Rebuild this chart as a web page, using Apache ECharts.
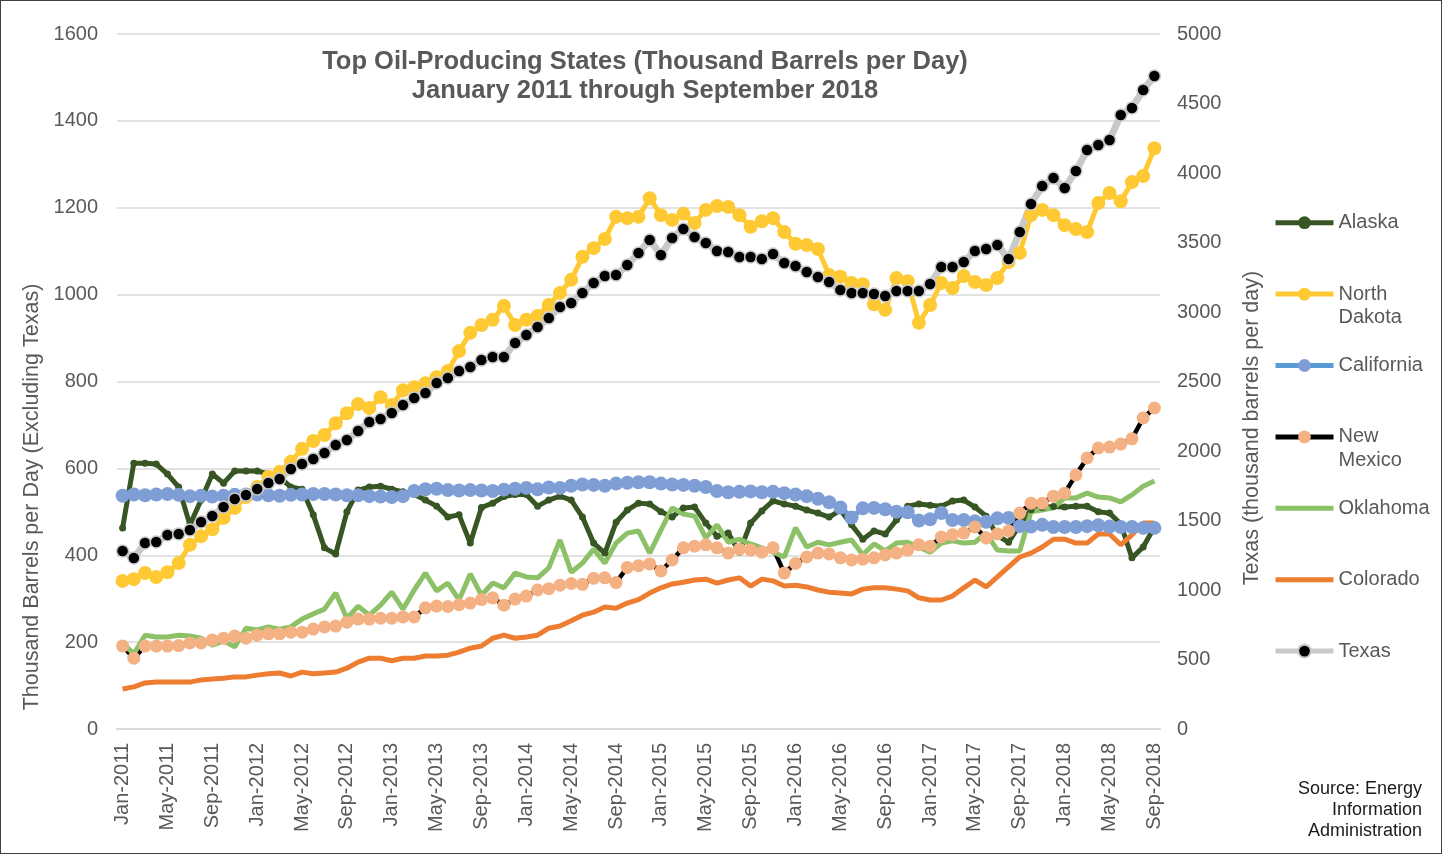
<!DOCTYPE html>
<html>
<head>
<meta charset="utf-8">
<title>Top Oil-Producing States</title>
<script src="https://cdn.jsdelivr.net/npm/echarts@6/dist/echarts.min.js"></script>
<style>
  html, body { margin: 0; padding: 0; background: #fff; }
  #chart { width: 1440px; height: 852px; border: 1px solid #404040; }
</style>
</head>
<body>
<div id="chart"></div>
<script>
const MONTHS = ['Jan', 'Feb', 'Mar', 'Apr', 'May', 'Jun', 'Jul', 'Aug', 'Sep', 'Oct', 'Nov', 'Dec']
const YEARS = [2011, 2012, 2013, 2014, 2015, 2016, 2017, 2018]
const LAST_MONTH_2018 = 9

// Jan-2011 ... Sep-2018
const categories = []
YEARS.forEach((y) => {
  const n = y === 2018 ? LAST_MONTH_2018 : 12
  for (let m = 0; m < n; m++) categories.push(MONTHS[m] + '-' + y)
})

const alaska = [
  463, 612, 612, 610, 587, 557, 470, 527, 587, 566, 594, 594,
  594, 587, 580, 557, 552, 493, 417, 403, 500, 550, 557, 559,
  552, 546, 540, 527, 513, 488, 493, 428, 510, 520, 535, 540,
  540, 513, 527, 536, 527, 488, 428, 405, 476, 504, 520, 518,
  500, 488, 509, 511, 474, 444, 451, 407, 474, 502, 525, 518,
  513, 504, 497, 488, 504, 470, 437, 456, 449, 481, 513, 518,
  515, 513, 525, 527, 511, 490, 445, 430, 470, 505, 510, 512,
  511, 513, 513, 500, 497, 472, 394, 419, 465
]
const northDakota = [
  341, 345, 359, 350, 361, 382, 424, 444, 460, 486, 509, 534,
  557, 580, 592, 615, 645, 663, 677, 704, 727, 748, 739, 764,
  746, 780, 787, 796, 810, 824, 870, 912, 930, 942, 974, 930,
  942, 951, 976, 1004, 1034, 1087, 1107, 1128, 1179, 1176, 1179, 1222,
  1183, 1172, 1186, 1165, 1195, 1204, 1202, 1183, 1156, 1169, 1176, 1144,
  1117, 1114, 1105, 1045, 1041, 1027, 1024, 978, 965, 1038, 1031, 935,
  976, 1027, 1015, 1043, 1029, 1022, 1038, 1075, 1096, 1183, 1195, 1183,
  1160, 1151, 1144, 1211, 1234, 1215, 1259, 1273, 1337
]
const california = [
  537, 540, 538, 540, 541, 539, 536, 537, 535, 537, 539, 540,
  540, 538, 537, 539, 540, 541, 541, 540, 538, 538, 536, 535,
  534, 536, 548, 552, 553, 550, 549, 550, 549, 548, 551, 553,
  555, 552, 556, 555, 560, 563, 562, 560, 565, 567, 568, 568,
  565, 563, 562, 560, 557, 548, 545, 546, 547, 545, 546, 543,
  540, 536, 530, 522, 510, 487, 508, 509, 506, 500, 499, 480,
  483, 497, 481, 481, 478, 477, 485, 486, 467, 466, 470, 465,
  465, 465, 467, 469, 466, 465, 465, 463, 463
]
const newMexico = [
  191, 163, 191, 191, 191, 192, 198, 198, 205, 209, 214, 209,
  216, 219, 219, 223, 223, 230, 235, 237, 246, 253, 253, 255,
  255, 258, 258, 279, 283, 282, 286, 290, 298, 302, 285, 299,
  306, 320, 323, 331, 335, 333, 347, 348, 337, 372, 376, 380,
  364, 389, 417, 421, 424, 417, 405, 414, 412, 407, 417, 359,
  381, 396, 405, 403, 394, 389, 391, 394, 401, 405, 412, 424,
  421, 442, 447, 451, 465, 440, 449, 456, 497, 520, 520, 536,
  543, 585, 624, 647, 649, 656, 668, 716, 739
]
const oklahoma = [
  198, 173, 216, 212, 212, 216, 214, 209, 193, 203, 189, 232,
  228, 235, 230, 235, 253, 265, 276, 313, 255, 283, 262, 285,
  315, 276, 320, 359, 318, 336, 297, 357, 308, 336, 325, 359,
  350, 348, 371, 435, 361, 382, 414, 382, 428, 451, 456, 405,
  458, 509, 495, 490, 440, 470, 430, 437, 426, 417, 407, 396,
  463, 419, 430, 424, 430, 435, 401, 426, 410, 428, 430, 419,
  407, 428, 433, 428, 430, 451, 412, 410, 410, 500, 504, 509,
  532, 532, 543, 534, 532, 523, 539, 559, 571
]
const colorado = [
  92, 97, 106, 108, 108, 108, 108, 113, 115, 117, 120, 120,
  124, 127, 129, 122, 131, 127, 129, 131, 140, 154, 163, 163,
  157, 163, 163, 168, 168, 170, 177, 186, 191, 209, 216, 209,
  212, 216, 232, 237, 249, 262, 269, 281, 278, 290, 298, 313,
  325, 334, 338, 343, 345, 336, 343, 348, 329, 345, 341, 329,
  331, 327, 320, 315, 313, 311, 322, 325, 325, 322, 318, 302,
  297, 297, 306, 325, 343, 327, 350, 373, 396, 405, 419, 437,
  437, 428, 428, 449, 449, 424, 447, 474, 474
]
// right axis
const texas = [
  1281, 1230, 1338, 1345, 1396, 1403, 1432, 1489, 1532, 1597, 1655, 1683,
  1727, 1770, 1799, 1871, 1906, 1942, 1986, 2043, 2079, 2144, 2209, 2230,
  2273, 2331, 2381, 2417, 2489, 2525, 2576, 2604, 2655, 2676, 2676, 2777,
  2835, 2892, 2957, 3036, 3065, 3137, 3209, 3259, 3266, 3338, 3424, 3518,
  3410, 3532, 3597, 3540, 3496, 3439, 3432, 3396, 3396, 3381, 3417, 3353,
  3331, 3288, 3252, 3216, 3158, 3137, 3137, 3129, 3115, 3151, 3151, 3151,
  3201, 3324, 3324, 3360, 3439, 3453, 3482, 3381, 3576, 3777, 3906, 3964,
  3892, 4014, 4165, 4201, 4237, 4417, 4468, 4597, 4698
]

const FONT = '"Liberation Sans", Arial, sans-serif'
const GREY_TEXT = '#595959'
const GRID_LINE = '#d9d9d9'

const lineSeries = (name, data, color, opts = {}) => ({
  name,
  type: 'line',
  data,
  yAxisIndex: opts.yAxisIndex || 0,
  symbol: opts.symbolSize ? 'circle' : 'none',
  symbolSize: opts.symbolSize || 0,
  showAllSymbol: true,
  lineStyle: { color: opts.lineColor || color, width: opts.lineWidth || 5 },
  itemStyle: Object.assign({ color }, opts.itemStyle || {}),
  emphasis: { disabled: true },
})

const chart = echarts.init(document.getElementById('chart'))

chart.setOption({
  animation: false,
  backgroundColor: '#fff',
  title: [
    {
      text: 'Top Oil-Producing States (Thousand Barrels per Day)\nJanuary 2011 through September 2018',
      left: 644,
      top: 46,
      padding: 0,
      textAlign: 'center',
      textStyle: { fontFamily: FONT, fontSize: 25.5, fontWeight: 'bold', color: GREY_TEXT, lineHeight: 29 },
    },
    {
      text: 'Source: Energy\nInformation\nAdministration',
      left: 1421,
      top: 778,
      padding: 0,
      textAlign: 'right',
      textStyle: { fontFamily: FONT, fontSize: 18, fontWeight: 'normal', color: '#1a1a1a', lineHeight: 21 },
    },
  ],
  legend: {
    orient: 'vertical',
    left: 1272,
    top: 186,
    padding: 0,
    itemGap: 0,
    itemWidth: 58,
    itemHeight: 16,
    selectedMode: false,
    lineStyle: { width: 5 },
    textStyle: { fontFamily: FONT, fontSize: 20, color: GREY_TEXT, lineHeight: 23.8 },
    // icon sits on the first line, second word wraps below
    formatter: (name) => {
      const parts = name.split(' ')
      return ' \n' + parts[0] + '\n' + (parts[1] || ' ')
    },
    data: [
      'Alaska',
      'North Dakota',
      'California',
      'New Mexico',
      { name: 'Oklahoma', itemStyle: { opacity: 0 } },
      { name: 'Colorado', itemStyle: { opacity: 0 } },
      'Texas',
    ],
  },
  grid: { left: 116, right: 281, top: 33, bottom: 124 },
  xAxis: {
    type: 'category',
    data: categories,
    boundaryGap: true,
    axisLine: { lineStyle: { color: GRID_LINE, width: 2 } },
    axisTick: { interval: 3, length: 6, lineStyle: { color: GRID_LINE, width: 1.5 } },
    axisLabel: {
      interval: 3,
      rotate: 90,
      margin: 14,
      fontFamily: FONT,
      fontSize: 20,
      color: GREY_TEXT,
    },
  },
  yAxis: [
    {
      type: 'value',
      min: 0,
      max: 1600,
      interval: 200,
      name: 'Thousand Barrels per Day (Excluding Texas)',
      nameLocation: 'middle',
      nameRotate: 90,
      nameGap: 63,
      nameTextStyle: { fontFamily: FONT, fontSize: 21.5, color: GREY_TEXT, padding: [0, 231, 0, 0] },
      axisLine: { show: false },
      axisTick: { show: false },
      axisLabel: { margin: 19, fontFamily: FONT, fontSize: 20, color: GREY_TEXT, formatter: (v) => String(v) },
      splitLine: { lineStyle: { color: GRID_LINE, width: 1.5 } },
    },
    {
      type: 'value',
      min: 0,
      max: 5000,
      interval: 500,
      position: 'right',
      name: 'Texas (thousand barrels per day)',
      nameLocation: 'middle',
      nameRotate: 90,
      nameGap: 81,
      nameTextStyle: { fontFamily: FONT, fontSize: 21.5, color: GREY_TEXT, padding: [0, 93, 0, 0] },
      axisLine: { show: false },
      axisTick: { show: false },
      axisLabel: { margin: 17, fontFamily: FONT, fontSize: 20, color: GREY_TEXT, formatter: (v) => String(v) },
      splitLine: { show: false },
    },
  ],
  series: [
    lineSeries('Alaska', alaska, '#375623', { symbolSize: 7 }),
    lineSeries('North Dakota', northDakota, '#ffc933', { symbolSize: 14 }),
    lineSeries('California', california, '#7f9ed6', { symbolSize: 14, lineColor: '#5b9bd5' }),
    lineSeries('New Mexico', newMexico, '#f4b183', { symbolSize: 13, lineColor: '#000', lineWidth: 4.5 }),
    lineSeries('Oklahoma', oklahoma, '#8cc168'),
    lineSeries('Colorado', colorado, '#ed7d31'),
    lineSeries('Texas', texas, '#000', {
      yAxisIndex: 1,
      symbolSize: 12,
      lineColor: '#c9c9c9',
      lineWidth: 7,
      itemStyle: { borderColor: '#c9c9c9', borderWidth: 1.5 },
    }),
  ],
})

window.addEventListener('resize', () => chart.resize())
</script>
</body>
</html>
